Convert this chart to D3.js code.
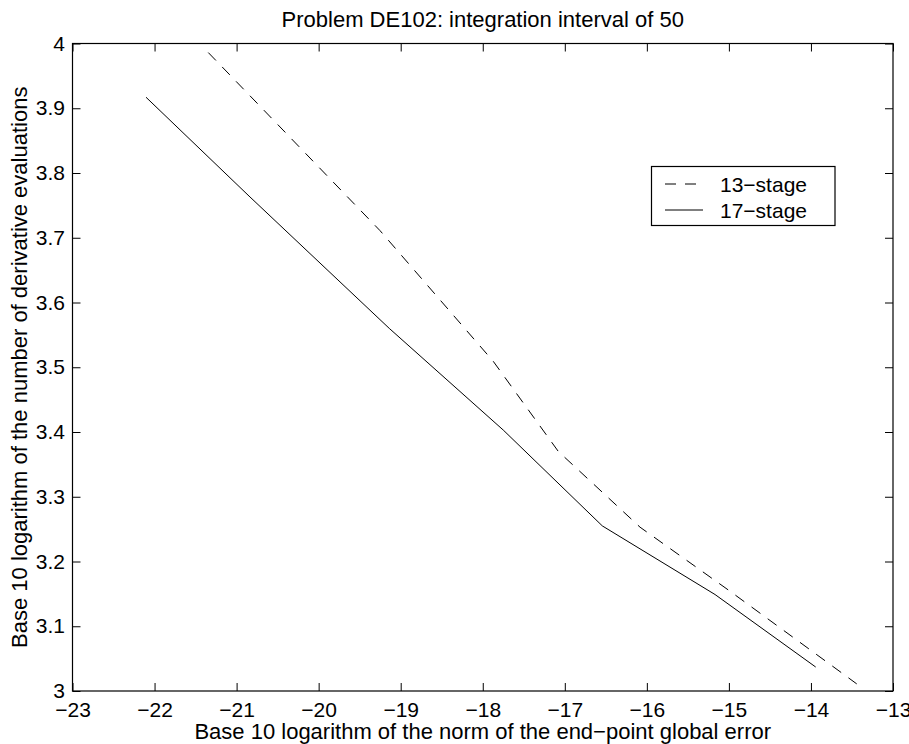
<!DOCTYPE html>
<html>
<head>
<meta charset="utf-8">
<script src="https://cdn.jsdelivr.net/npm/d3@7"></script>
<style>
  body { margin: 0; background: #fff; }
  svg { display: block; font-family: "Liberation Sans", Arial, Helvetica, sans-serif; }
</style>
</head>
<body>
<div id="chart"></div>
<script>
// 13-stage (dashed) and 17-stage (solid) curves
var err13 = [-21.345, -19.252, -17.871, -17.079, -16.083, -15.007, -13.442];
var evals13 = [3.986, 3.711, 3.509, 3.370, 3.253, 3.156, 3.011];
var err17 = [-22.104, -20.837, -19.139, -17.750, -16.543, -15.169, -13.942];
var evals17 = [3.917, 3.763, 3.560, 3.403, 3.255, 3.149, 3.037];

var xTicks = [-23, -22, -21, -20, -19, -18, -17, -16, -15, -14, -13];
var yTicks = [3, 3.1, 3.2, 3.3, 3.4, 3.5, 3.6, 3.7, 3.8, 3.9, 4];
var seriesNames = ["13\u2212stage", "17\u2212stage"];

var W = 909, H = 744;
var margin = { top: 43.5, right: 16, bottom: 53, left: 72.5 };
var width = W - margin.left - margin.right;
var height = H - margin.top - margin.bottom;
var tickFont = 21, labelFont = 22;

var svg = d3.select("#chart").append("svg")
    .attr("width", W)
    .attr("height", H);

var g = svg.append("g")
    .attr("transform", "translate(" + margin.left + "," + margin.top + ")");

var x = d3.scaleLinear().domain([-23, -13]).range([0, width]);
var y = d3.scaleLinear().domain([3, 4]).range([height, 0]);

function minusFmt(d) {
    return d3.format("")(d).replace("-", "\u2212");
}

// axes: MATLAB style ticks pointing inwards on all four sides
var xBottom = g.append("g")
    .attr("transform", "translate(0," + height + ")")
    .call(d3.axisBottom(x).tickValues(xTicks).tickSizeInner(-8).tickSizeOuter(0).tickFormat(minusFmt));
xBottom.selectAll("text").attr("y", 26).attr("dy", null);

g.append("g")
    .call(d3.axisLeft(y).tickValues(yTicks).tickSizeInner(-8).tickSizeOuter(0).tickPadding(7.5).tickFormat(d3.format("")));

g.append("g")
    .call(d3.axisTop(x).tickValues(xTicks).tickSizeInner(-8).tickSizeOuter(0).tickFormat(""));
g.append("g")
    .attr("transform", "translate(" + width + ",0)")
    .call(d3.axisRight(y).tickValues(yTicks).tickSizeInner(-8).tickSizeOuter(0).tickFormat(""));

g.selectAll(".domain").remove();
g.selectAll(".tick line").attr("stroke", "#000").attr("stroke-width", 1);
g.selectAll(".tick text")
    .attr("fill", "#000")
    .style("font-size", tickFont + "px")
    .style("font-family", "'Liberation Sans', Arial, Helvetica, sans-serif");

g.append("rect")
    .attr("x", 0).attr("y", 0)
    .attr("width", width).attr("height", height)
    .attr("fill", "none")
    .attr("stroke", "#000")
    .attr("stroke-width", 1.2);

// lines
var line = d3.line()
    .x(function (d) { return x(d[0]); })
    .y(function (d) { return y(d[1]); });

var data13 = err13.map(function (e, i) { return [e, evals13[i]]; });
var data17 = err17.map(function (e, i) { return [e, evals17[i]]; });

g.append("path")
    .datum(data13)
    .attr("d", line)
    .attr("fill", "none")
    .attr("stroke", "#000")
    .attr("stroke-width", 1)
    .attr("stroke-dasharray", "11,9");

g.append("path")
    .datum(data17)
    .attr("d", line)
    .attr("fill", "none")
    .attr("stroke", "#000")
    .attr("stroke-width", 1);

// legend
var legend = svg.append("g").attr("transform", "translate(651.5,166.5)");
legend.append("rect")
    .attr("width", 183.5).attr("height", 59)
    .attr("fill", "#fff")
    .attr("stroke", "#000")
    .attr("stroke-width", 1.2);
var dashes = ["11,9", null];
seriesNames.forEach(function (name, i) {
    var ly = 17.5 + i * 26;
    legend.append("line")
        .attr("x1", 13.5).attr("x2", 51.5)
        .attr("y1", ly).attr("y2", ly)
        .attr("stroke", "#000")
        .attr("stroke-width", 1)
        .attr("stroke-dasharray", dashes[i]);
    legend.append("text")
        .attr("x", 68.5).attr("y", ly + 7.5)
        .style("font-size", tickFont + "px")
        .text(name);
});

// title and axis labels
svg.append("text")
    .attr("x", margin.left + width / 2).attr("y", 27)
    .attr("text-anchor", "middle")
    .style("font-size", labelFont + "px")
    .text("Problem DE102: integration interval of 50");

svg.append("text")
    .attr("x", margin.left + width / 2).attr("y", 739)
    .attr("text-anchor", "middle")
    .style("font-size", labelFont + "px")
    .text("Base 10 logarithm of the norm of the end\u2212point global error");

svg.append("text")
    .attr("transform", "translate(27," + (margin.top + height / 2) + ") rotate(-90)")
    .attr("text-anchor", "middle")
    .style("font-size", labelFont + "px")
    .text("Base 10 logarithm of the number of derivative evaluations");
</script>
</body>
</html>
